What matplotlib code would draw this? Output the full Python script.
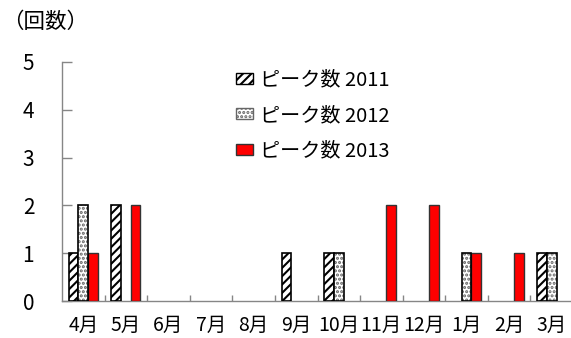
import numpy as np
import matplotlib
matplotlib.use("Agg")
import matplotlib.pyplot as plt
from matplotlib.patches import Patch

plt.rcParams['font.family'] = ['Noto Sans CJK JP', 'DejaVu Sans']
plt.rcParams['hatch.linewidth'] = 1.5

months = ['4月', '5月', '6月', '7月', '8月', '9月', '10月', '11月', '12月', '1月', '2月', '3月']
peaks_2011 = [1, 2, 0, 0, 0, 1, 1, 0, 0, 0, 0, 1]
peaks_2012 = [2, 0, 0, 0, 0, 0, 1, 0, 0, 1, 0, 1]
peaks_2013 = [1, 2, 0, 0, 0, 0, 0, 2, 2, 1, 1, 0]
series_names = ['ピーク数 2011', 'ピーク数 2012', 'ピーク数 2013']
y_ticks = [0, 1, 2, 3, 4, 5]

W, H = 571, 338
fig = plt.figure(figsize=(W / 100, H / 100), dpi=100)
ax = fig.add_axes([62 / W, (H - 301) / H, 511 / W, 239 / H])

x = np.arange(len(months))
bw = 0.228
grey = '#868686'
dots = '....'


def nonzero(vals, offset):
    v = np.asarray(vals, dtype=float)
    keep = v > 0
    return x[keep] + offset, v[keep]


xs, vs = nonzero(peaks_2011, -bw)
ax.bar(xs, vs, bw, facecolor='white', edgecolor='black',
       hatch='////', linewidth=1.2, zorder=3)
xs, vs = nonzero(peaks_2012, 0)
ax.bar(xs, vs, bw, facecolor='white', edgecolor='#666666',
       hatch=dots, linewidth=0, zorder=3)
ax.bar(xs, vs, bw, fill=False, edgecolor='black', linewidth=1.2, zorder=4)
xs, vs = nonzero(peaks_2013, bw)
ax.bar(xs, vs, bw, facecolor='#ff0000', edgecolor='#333333',
       linewidth=1.0, zorder=3)

ax.set_xlim(-0.5, len(months) - 0.5)
ax.set_ylim(0, 5)
ax.set_yticks(y_ticks)
ax.tick_params(axis='y', direction='in', length=7, width=1, color=grey,
               labelsize=15, pad=20)
ax.set_xticks(x)
ax.set_xticklabels(months)
ax.tick_params(axis='x', which='major', length=0, labelsize=14, pad=10)
ax.set_xticks(np.arange(0.5, len(months) - 0.5, 1), minor=True)
ax.tick_params(axis='x', which='minor', direction='in', length=4, width=1, color=grey)

for s in ['top', 'right']:
    ax.spines[s].set_visible(False)
for s in ['left', 'bottom']:
    ax.spines[s].set_color(grey)
    ax.spines[s].set_linewidth(1)

handles = [
    Patch(facecolor='white', edgecolor='black', hatch='////', linewidth=1.0),
    Patch(facecolor='white', edgecolor='#666666', hatch=dots, linewidth=1.0),
    Patch(facecolor='#ff0000', edgecolor='#333333', linewidth=1.0),
]
ax.legend(handles, series_names, loc='upper left', bbox_to_anchor=(0.305, 1.045),
          frameon=False, fontsize=14.5, handlelength=0.85, handleheight=0.45,
          handletextpad=0.35, labelspacing=0.72)

fig.text(2 / W, 1 - 22 / H, '（回数）', fontsize=15.5, va='center', ha='left')

fig.savefig('out.png', dpi=100)
